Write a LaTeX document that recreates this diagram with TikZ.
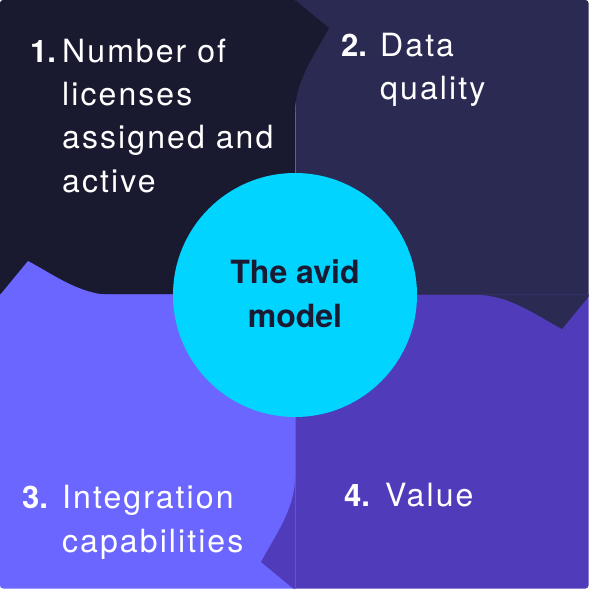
\documentclass[tikz,border=0pt]{standalone}
\usepackage{fontspec}
\setmainfont{TeX Gyre Heros}
\newfontfamily\widefont{TeX Gyre Heros}[LetterSpace=6.5]
\definecolor{qone}{HTML}{191930}
\definecolor{qtwo}{HTML}{2B2A52}
\definecolor{qthree}{HTML}{6B66FF}
\definecolor{qfour}{HTML}{503CBB}
\definecolor{hub}{HTML}{00D4FF}
\definecolor{hubtext}{HTML}{1A1A33}
\begin{document}
\begin{tikzpicture}[x=1pt,y=-1pt,
  lbl/.style={anchor=base west, inner sep=0pt, text=white, font=\widefont\fontsize{32}{36}\selectfont},
  num/.style={anchor=base west, inner sep=0pt, text=white, font=\fontsize{31}{36}\selectfont\bfseries},
  hubline/.style={anchor=base, inner sep=0pt, text=hubtext, font=\fontsize{32}{38}\selectfont\bfseries}]
\useasboundingbox (0,0) rectangle (590,590);
\fill[white] (0,0) rectangle (590,590);
\begin{scope}
\clip[rounded corners=3pt] (0,0) rectangle (588.5,588.5);
\fill[qone] (0,0) rectangle (295,295);
\fill[qtwo] (295,0) rectangle (590,295);
\fill[qthree] (0,295) rectangle (295,590);
\fill[qfour] (295,295) rectangle (590,590);
% seams
\draw[line width=0.7pt, color=qtwo!70!white!90!qone] (295,0) -- (295,295);
\draw[line width=0.7pt, color=qthree!85!black] (0,294.5) -- (295,294.5);
\draw[line width=0.7pt, color=qfour!85!white] (295,295) -- (295,590);
\draw[line width=0.7pt, color=qtwo!75!qfour] (295,294.5) -- (590,294.5);
% tabs
\fill[qone] (295,0) -- (329,28) .. controls (317,51) and (295,80) .. (295,112) -- cycle;
\fill[qtwo] (590,295) -- (562,329) .. controls (539,317) and (510,295) .. (478,295) -- cycle;
\fill[qfour] (295,590) -- (261,562) .. controls (273,539) and (295,510) .. (295,478) -- cycle;
\fill[qthree] (0,295) -- (28,261) .. controls (51,273) and (80,295) .. (112,295) -- cycle;
\end{scope}
% hub
\node[circle, fill=hub, minimum size=244pt, inner sep=0pt] (hub) at (295,295) {};
\node[hubline] (hubA) at (295,283) {The avid};
\node[hubline] (hubB) at (295,327) {model};
% item 1
\node[num] (n1) at (30,62) {1.};
\node[lbl] (t1a) at (62,62) {Number of};
\node[lbl] (t1b) at (62,105) {licenses};
\node[lbl] (t1c) at (62,148) {assigned and};
\node[lbl] (t1d) at (62,192) {active};
% item 2
\node[num] (n2) at (341,56) {2.};
\node[lbl] (t2a) at (380,56) {Data};
\node[lbl] (t2b) at (380,99) {quality};
% item 3
\node[num] (n3) at (22,508) {3.};
\node[lbl] (t3a) at (62,508) {Integration};
\node[lbl] (t3b) at (62,552) {capabilities};
% item 4
\node[num] (n4) at (344,506) {4.};
\node[lbl] (t4a) at (385,506) {Value};
\end{tikzpicture}
\end{document}
